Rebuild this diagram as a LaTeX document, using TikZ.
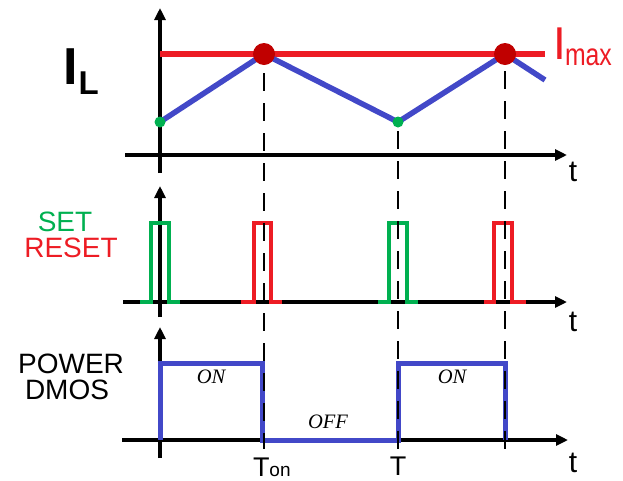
\documentclass[tikz,border=0pt]{standalone}
\usepackage{fontspec}
\setmainfont{Liberation Sans}
\newfontfamily\serifit{Liberation Serif}
\usetikzlibrary{arrows.meta}
\definecolor{imaxred}{RGB}{237,28,36}
\definecolor{dotred}{RGB}{192,0,0}
\definecolor{ilblue}{RGB}{66,72,200}
\definecolor{setgreen}{RGB}{0,176,80}
\begin{document}
\begin{tikzpicture}[x=1pt,y=-1pt,
  axisline/.style={line width=4.7pt,black,-{Triangle[length=12pt,width=11pt]}},
  pulseline/.style={line width=4.5pt},
  guide/.style={line width=2.8pt,black,dash pattern=on 18pt off 12pt},
  lbl/.style={inner sep=0pt,outer sep=0pt},
  sig/.style={line width=5pt,ilblue}]
\useasboundingbox (0,0) rectangle (623,480);

% ---------- coordinates ----------
% top plot
\coordinate (ta0) at (160,173); \coordinate (ta1) at (160,8);
\coordinate (th0) at (125,155); \coordinate (th1) at (567,155);
% middle plot
\coordinate (ma0) at (160,317); \coordinate (ma1) at (160,186);
\coordinate (mh0) at (123,302); \coordinate (mh1) at (567,302);
% bottom plot
\coordinate (ba0) at (160,458); \coordinate (ba1) at (160,327);
\coordinate (bh0) at (122,440); \coordinate (bh1) at (568,440);

% axes
\draw[axisline] (ta0) -- (ta1);
\draw[axisline] (th0) -- (th1);
\draw[axisline] (ma0) -- (ma1);
\draw[axisline] (mh0) -- (mh1);
\draw[axisline] (ba0) -- (ba1);
\draw[axisline] (bh0) -- (bh1);

% ---------- top: inductor current ----------
\coordinate (r0) at (160,54); \coordinate (r1) at (545,54);
\draw[line width=5.5pt,imaxred] (r0) -- (r1);
\coordinate (v0) at (160,122);
\coordinate (p1) at (264,54);
\coordinate (v1) at (398,122);
\coordinate (p2) at (505,54);
\coordinate (ve) at (545,80);
\draw[line width=5.5pt,ilblue,line join=round] (v0) -- (p1) -- (v1) -- (p2) -- (ve);

% ---------- middle: SET / RESET pulses ----------
\draw[pulseline,setgreen] (140,302) -- (151,302) -- (151,223) -- (169,223) -- (169,302) -- (180,302);
\draw[pulseline,imaxred] (241,302) -- (254,302) -- (254,223) -- (271,223) -- (271,302) -- (282,302);
\draw[pulseline,setgreen] (378,302) -- (389,302) -- (389,223) -- (407,223) -- (407,302) -- (418,302);
\draw[pulseline,imaxred] (484,302) -- (494,302) -- (494,223) -- (512,223) -- (512,302) -- (526,302);

% ---------- bottom: power DMOS ----------
\coordinate (s0) at (160,440);
\coordinate (s1) at (160,363);
\coordinate (s2) at (262,363);
\coordinate (s3) at (262,440);
\coordinate (s4) at (398,440);
\coordinate (s5) at (398,363);
\coordinate (s6) at (505,363);
\coordinate (s7) at (505,440);
\draw[sig] (s0) -- (s1) -- (s2) -- (s3) -- (s4) -- (s5) -- (s6) -- (s7);

% ---------- dashed guides ----------
\coordinate (g1a) at (264,73);  \coordinate (g1b) at (264,449);
\coordinate (g2a) at (398,131); \coordinate (g2b) at (398,449);
\coordinate (g3a) at (505,71);  \coordinate (g3b) at (505,449);
\draw[guide] (g1a) -- (g1b);
\draw[guide] (g2a) -- (g2b);
\draw[guide] (g3a) -- (g3b);

% dots
\fill[dotred] (p1) circle (11pt);
\fill[dotred] (p2) circle (11pt);
\fill[setgreen] (v0) circle (5.5pt);
\fill[setgreen] (v1) circle (5.5pt);

% ---------- labels ----------
\node[lbl,anchor=base west] (IL) at (63.5,84) {\fontsize{52}{52}\selectfont\bfseries I};
\node[lbl,anchor=base west] (ILs) at (78.5,94) {\fontsize{33}{33}\selectfont\bfseries L};
\node[lbl,anchor=base west,text=imaxred] (Im) at (553,59) {\fontsize{46}{46}\selectfont I};
\node[lbl,anchor=base west,text=imaxred] (Ims) at (565,65) {\scalebox{0.8}[1]{\fontsize{31}{31}\selectfont max}};

\node[lbl,anchor=base,text=setgreen] (SET) at (65,231) {\fontsize{28}{28}\selectfont SET};
\node[lbl,anchor=base,text=imaxred] (RESET) at (71,257) {\fontsize{28}{28}\selectfont RESET};
\node[lbl,anchor=base] (POW) at (71,373) {\fontsize{28}{28}\selectfont POWER};
\node[lbl,anchor=base] (DMOS) at (67,399) {\fontsize{28}{28}\selectfont DMOS};

\node[lbl] (ON1) at (211,377) {\fontsize{20.5}{20.5}\selectfont\serifit\itshape ON};
\node[lbl] (ON2) at (452,377) {\fontsize{20.5}{20.5}\selectfont\serifit\itshape ON};
\node[lbl] (OFF) at (328,422) {\fontsize{20.5}{20.5}\selectfont\serifit\itshape OFF};

\node[lbl,anchor=base west] (Ton) at (253,476) {\fontsize{27}{27}\selectfont T\fontsize{19}{19}\selectfont on};
\node[lbl,anchor=base] (T) at (398,475) {\fontsize{27}{27}\selectfont T};

\node[lbl] (t1) at (573,172) {\fontsize{30}{30}\selectfont t};
\node[lbl] (t2) at (573,322) {\fontsize{30}{30}\selectfont t};
\node[lbl] (t3) at (573,463) {\fontsize{30}{30}\selectfont t};
\end{tikzpicture}
\end{document}
